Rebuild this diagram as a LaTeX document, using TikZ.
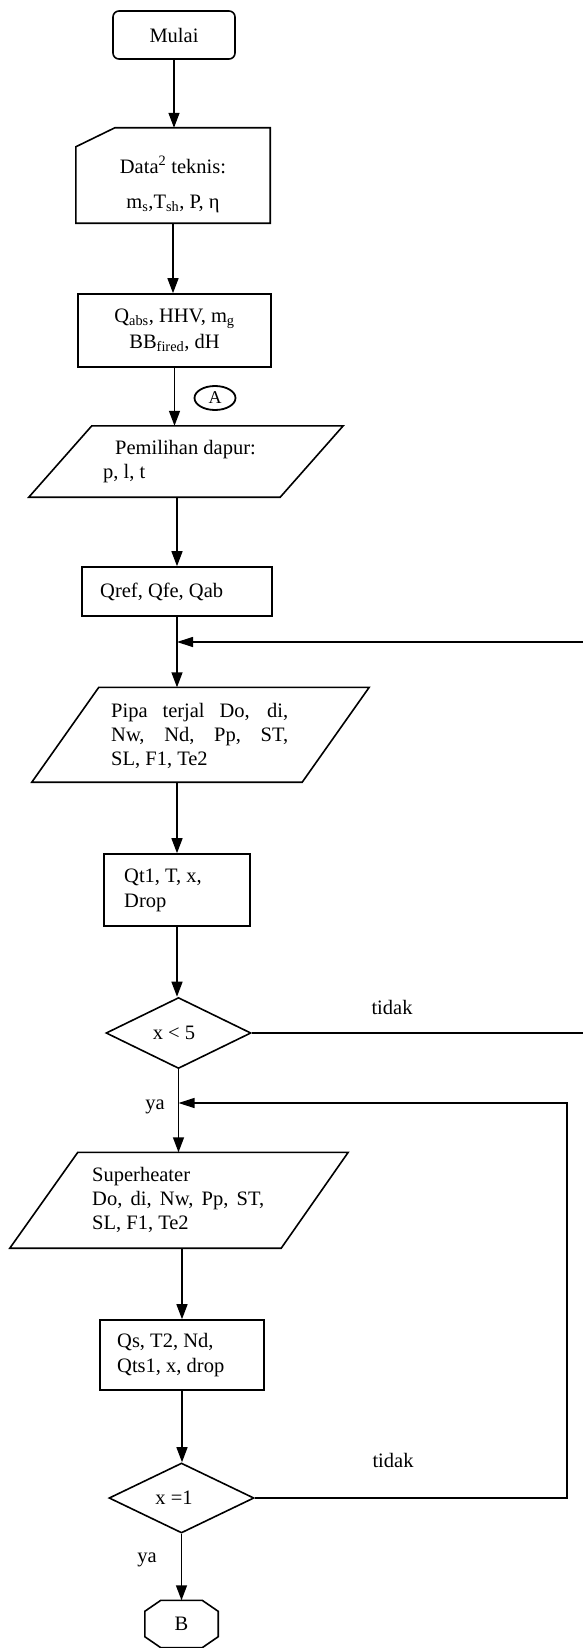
\documentclass[tikz,border=0pt]{standalone}
\usepackage{fontspec}
\setmainfont{Liberation Serif}
\usetikzlibrary{arrows.meta,shapes.geometric}

\begin{document}
\begin{tikzpicture}[x=1pt,y=-1pt,
  every node/.style={font=\fontsize{20.5}{24}\selectfont, inner sep=0pt},
  shapeline/.style={draw, line width=1.6pt},
  box/.style={shapeline, rectangle},
  ghost/.style={rectangle, draw=none},
  decision/.style={shapeline, diamond, minimum width=145pt, minimum height=70pt},
  arr/.style={line width=1.4pt, -{Triangle[length=15pt,width=11pt]}},
  looparr/.style={line width=1.2pt, -{Triangle[length=16pt,width=10pt]}},
  txt/.style={align=left, anchor=west},
]
\useasboundingbox[fill=white] (0,0) rectangle (582,1648);

% start terminal
\node[box, rounded corners=6pt, minimum width=122pt, minimum height=48pt] (mulai) at (174,35) {Mulai};

% manual input: technical data
\node[ghost, minimum width=194pt, minimum height=95pt] (data) at (173,175.5) {};
\draw[shapeline] ([xshift=39pt]data.north west) -- (data.north east) -- (data.south east)
  -- (data.south west) -- ([yshift=-19pt]data.north west) -- cycle;
\node[align=center] (datatxt) at (173,184.5) {Data\textsuperscript{2} teknis:\\[11pt] m\textsubscript{s},T\textsubscript{sh}, P, η};

% process: heat absorbed, fuel
\node[box, minimum width=193pt, minimum height=73pt, align=center] (qabs) at (174.5,330.5)
  {Q\textsubscript{abs}, HHV, m\textsubscript{g}\\[2pt] BB\textsubscript{fired}, dH};

% connector A
\node[ellipse, draw, line width=1.8pt, minimum width=41pt, minimum height=24pt,
  font=\fontsize{18}{18}\selectfont] (conA) at (215,398) {A};

% input: furnace choice
\node[ghost, minimum width=314pt, minimum height=71pt] (pem) at (186,461.5) {};
\draw[shapeline] ([xshift=63pt]pem.north west) -- (pem.north east)
  -- ([xshift=-63pt]pem.south east) -- (pem.south west) -- cycle;
\node[txt] (pemtxt) at (103,462) {\hspace*{12pt}Pemilihan dapur:\\ p, l, t};

% process: furnace heat
\node[box, minimum width=190pt, minimum height=49pt] (qref) at (177,591.5) {};
\node[txt] (qreftxt) at (100,591.5) {Qref, Qfe, Qab};

% input: riser tubes
\node[ghost, minimum width=337pt, minimum height=94.5pt] (pipa) at (200.5,734.75) {};
\draw[shapeline] ([xshift=67pt]pipa.north west) -- (pipa.north east)
  -- ([xshift=-67pt]pipa.south east) -- (pipa.south west) -- cycle;
\node[anchor=west] (pipatxt) at (111,736)
  {\parbox{177pt}{Pipa terjal Do, di,\linebreak Nw, Nd, Pp, ST,\linebreak SL, F1, Te2}};

% process: tube heat
\node[box, minimum width=146pt, minimum height=72pt] (qt1) at (177,890) {};
\node[txt] (qt1txt) at (124,890.5) {Qt1, T, x,\\[1pt] Drop};

% decision 1
\node[decision, minimum height=71pt] (d1) at (178.5,1033) {};
\node (d1txt) at (174,1033) {x < 5};
\node (tidak1) at (392,1007) {tidak};
\node (ya1) at (155,1107) {ya};

% input: superheater
\node[ghost, minimum width=338pt, minimum height=95.5pt] (super) at (179,1200.25) {};
\draw[shapeline] ([xshift=68pt]super.north west) -- (super.north east)
  -- ([xshift=-67pt]super.south east) -- (super.south west) -- cycle;
\node[anchor=west] (supertxt) at (92,1200)
  {\parbox{172pt}{Superheater\\ Do, di, Nw, Pp, ST,\linebreak SL, F1, Te2}};

% process: superheater heat
\node[box, minimum width=164pt, minimum height=70pt] (qs) at (182,1355) {};
\node[txt] (qstxt) at (117,1355.5) {Qs, T2, Nd,\\[1pt] Qts1, x, drop};

% decision 2
\node[decision] (d2) at (181.5,1498) {};
\node (d2txt) at (174,1498) {x =1};
\node (tidak2) at (393,1460) {tidak};
\node (ya2) at (147,1560) {ya};

% off-page connector B
\node[ghost, minimum width=73pt, minimum height=47pt] (b) at (181.5,1624) {B};
\draw[shapeline] ([xshift=16pt]b.north west) -- ([xshift=-16pt]b.north east)
  -- ([yshift=-11pt]b.north east) -- ([yshift=11pt]b.south east)
  -- ([xshift=-16pt]b.south east) -- ([xshift=16pt]b.south west)
  -- ([yshift=11pt]b.south west) -- ([yshift=-11pt]b.north west) -- cycle;

% main flow
\draw[arr] (mulai.south) -- (mulai.south |- data.north);
\draw[arr] (data.south) -- (data.south |- qabs.north);
\draw[arr] (qabs.south) -- (qabs.south |- pem.north);
\draw[arr] (pem.south -| qref.north) -- (qref.north);
\draw[arr] (qref.south) -- (qref.south |- pipa.north);
\draw[arr] (pipa.south -| qt1.north) -- (qt1.north);
\draw[arr] (qt1.south) -- (qt1.south |- d1.north);
\draw[arr] (d1.south) -- (d1.south |- super.north);
\draw[arr] (super.south -| qs.north) -- (qs.north);
\draw[arr] (qs.south) -- (qs.south |- d2.north);
\draw[arr] (d2.south) -- (d2.south |- b.north);

% loops back
\coordinate (r1) at (600,642);
\draw[looparr] (d1.east) -- (d1.east -| r1) -- (r1) -- (qref.south |- r1);
\coordinate (r2) at (567,1103);
\draw[looparr] (d2.east) -- (d2.east -| r2) -- (r2) -- (d1.south |- r2);
\end{tikzpicture}
\end{document}
